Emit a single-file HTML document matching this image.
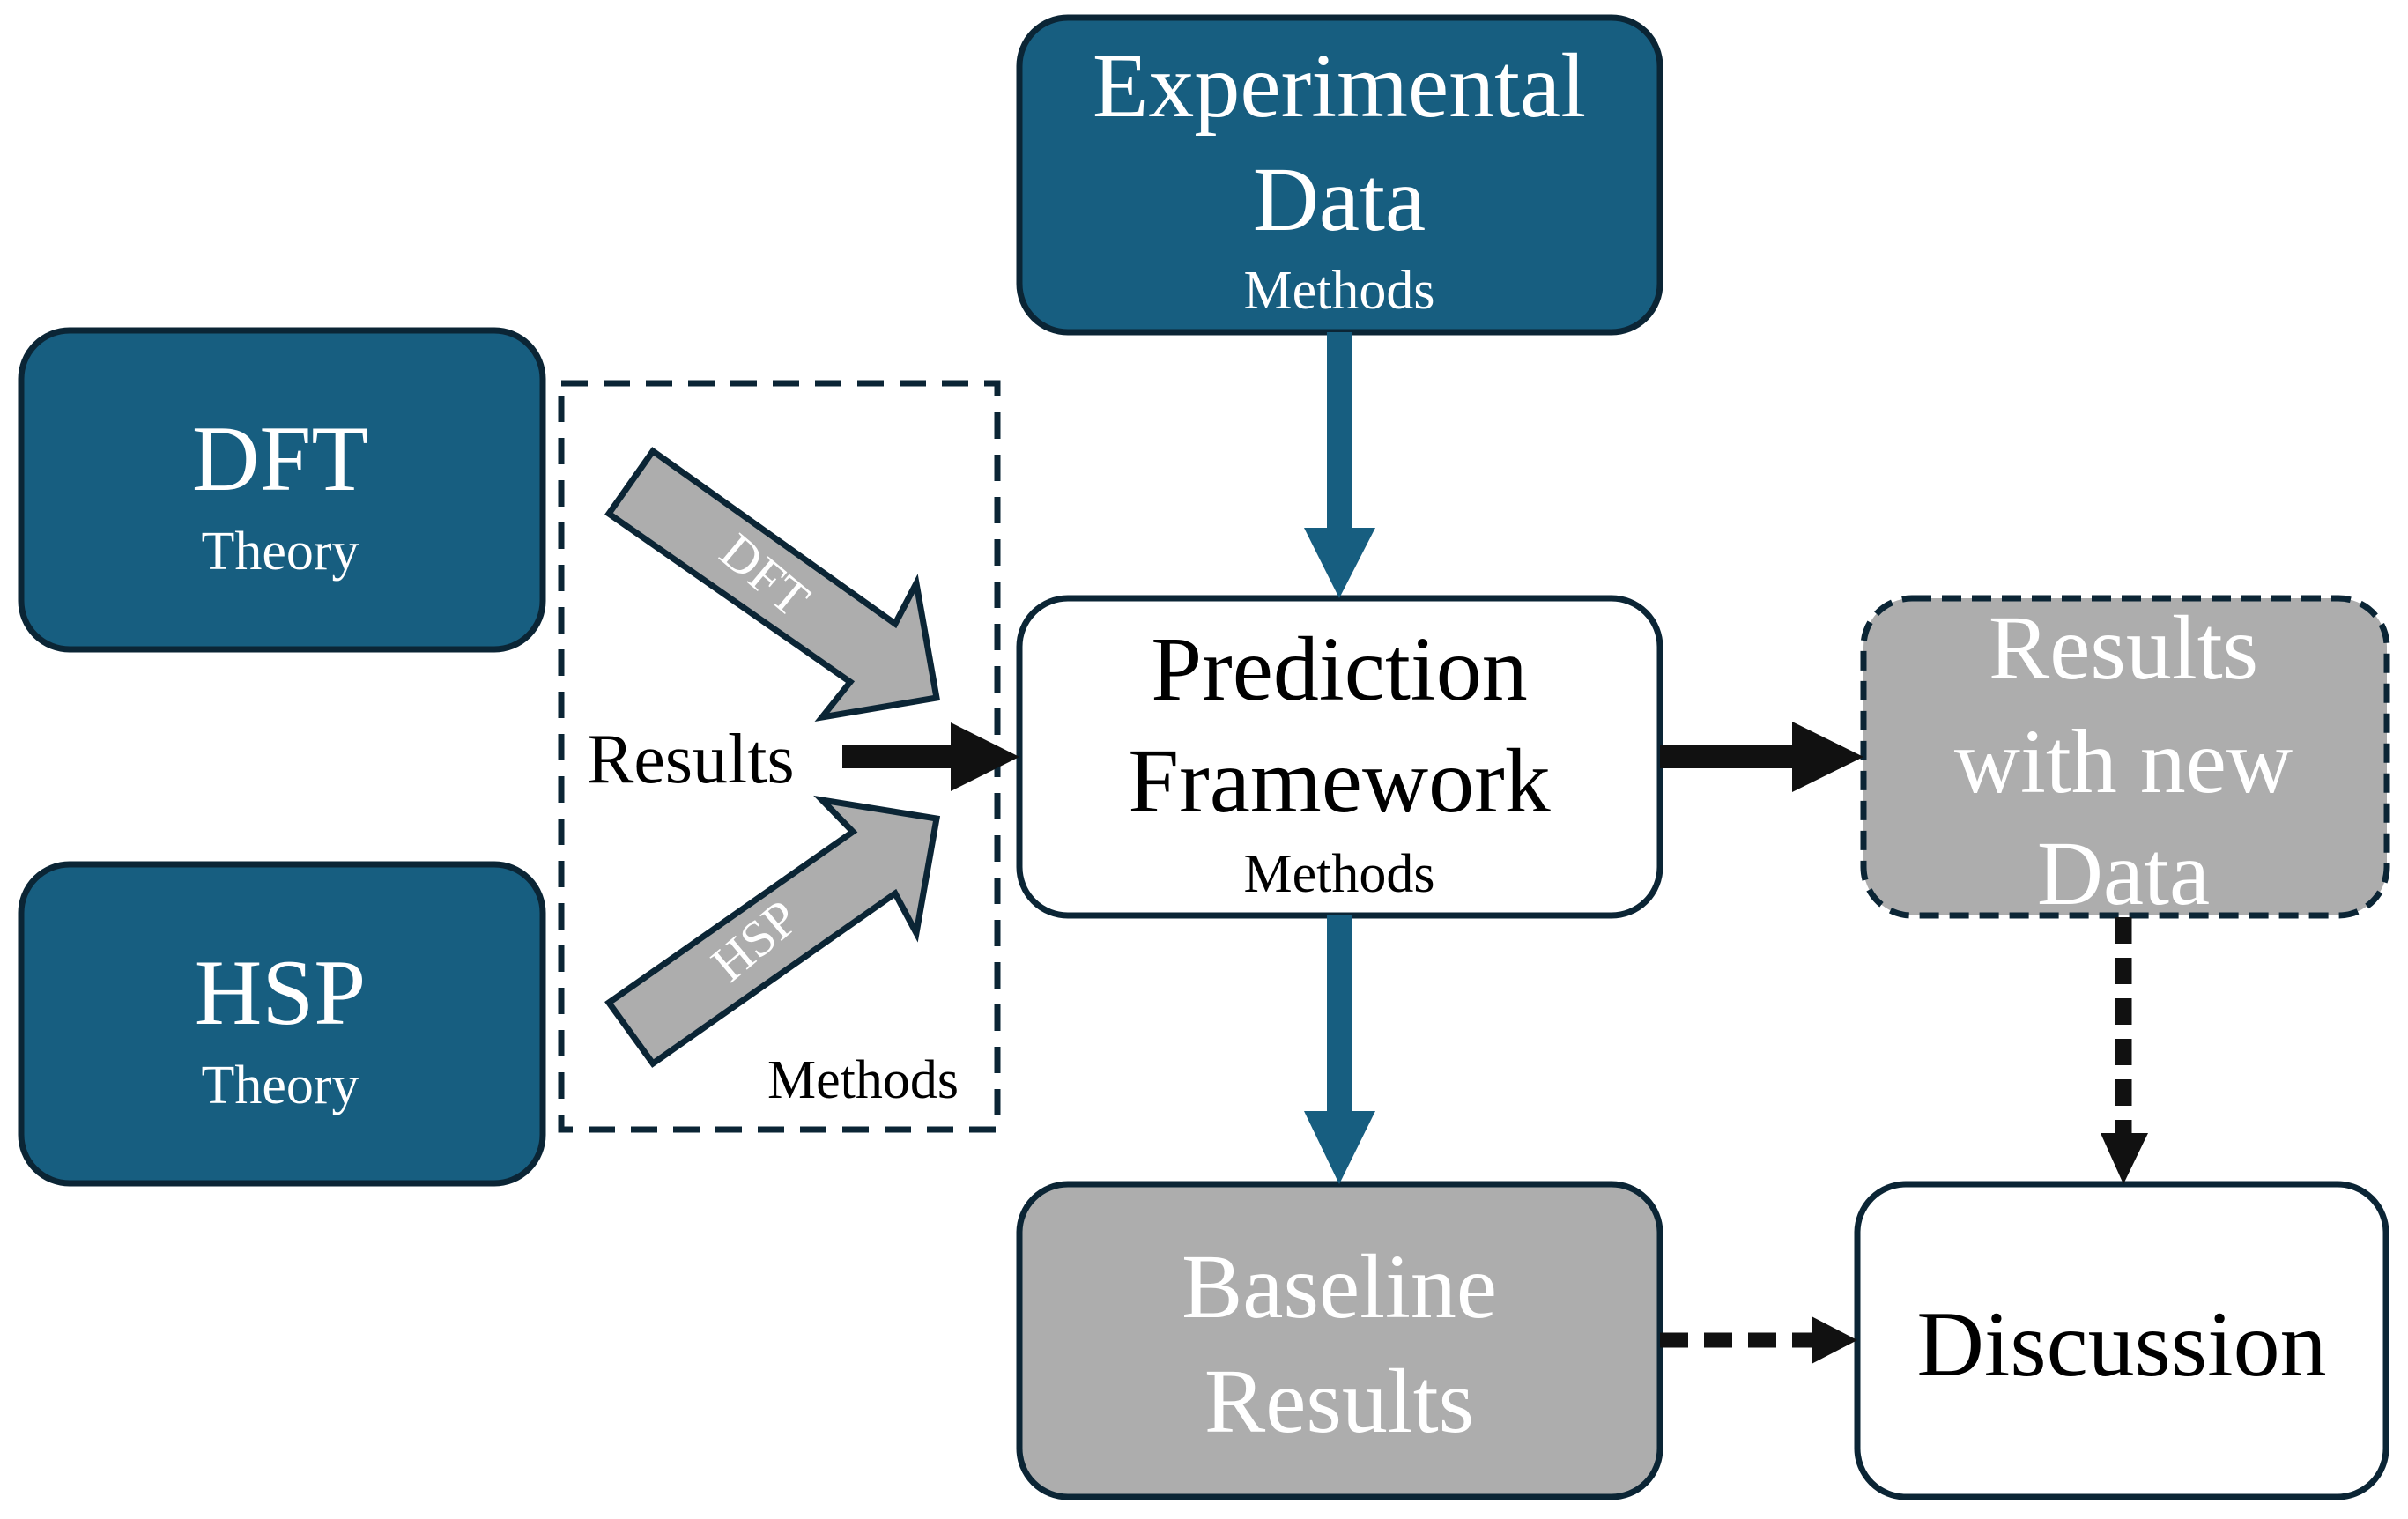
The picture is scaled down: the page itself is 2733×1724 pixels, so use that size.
<!DOCTYPE html>
<html><head><meta charset="utf-8"><style>
html,body{margin:0;padding:0;background:#fff;}
svg{display:block;}
text{font-family:"Liberation Serif",serif;}
</style></head><body>
<svg width="2733" height="1724" viewBox="0 0 2733 1724" xmlns="http://www.w3.org/2000/svg">
<g stroke="#0b2535" stroke-width="7">
<rect x="1157" y="20" width="727" height="357" rx="55" fill="#175e80"/>
<rect x="24" y="375" width="592" height="362" rx="55" fill="#175e80"/>
<rect x="24" y="981" width="592" height="362" rx="55" fill="#175e80"/>
<rect x="1157" y="679" width="727" height="360" rx="55" fill="#fff"/>
<rect x="1157" y="1344" width="727" height="355" rx="55" fill="#adadad"/>
<rect x="2108" y="1344" width="600" height="355" rx="55" fill="#fff"/>
<rect x="2115" y="679" width="594" height="360" rx="55" fill="#adadad" stroke-dasharray="22,12"/>
<rect x="637" y="435" width="495" height="847" fill="none" stroke-width="7" stroke-dasharray="30,18"/>
<polygon points="741,512 691,583 965,774 933,814 1063,792 1040,662 1016,708" fill="#adadad" stroke-width="7"/>
<polygon points="691,1138 741,1207 1016,1014 1040,1059 1063,929 933,908 968,944" fill="#adadad" stroke-width="7"/>
</g>
<rect x="1506" y="377" width="28" height="224" fill="#175e80"/>
<polygon points="1480,599 1561,599 1520,679" fill="#175e80"/>
<rect x="1506" y="1039" width="28" height="224" fill="#175e80"/>
<polygon points="1480,1261 1561,1261 1520,1344" fill="#175e80"/>
<rect x="956" y="846" width="125" height="26" fill="#111"/>
<polygon points="1079,820 1079,898 1157,859" fill="#111"/>
<rect x="1884" y="845" width="152" height="27" fill="#111"/>
<polygon points="2034,819 2034,899 2115,859" fill="#111"/>
<line x1="2410" y1="1041" x2="2410" y2="1288" stroke="#111" stroke-width="19" stroke-dasharray="30,16"/>
<polygon points="2384,1286 2438,1286 2410,1344" fill="#111"/>
<line x1="1884" y1="1521" x2="2058" y2="1521" stroke="#111" stroke-width="17" stroke-dasharray="32,18"/>
<polygon points="2056,1494 2056,1548 2108,1521" fill="#111"/>
<g text-anchor="middle" fill="#fff">
<text x="1520" y="132" font-size="104">Experimental</text>
<text x="1520" y="261" font-size="104">Data</text>
<text x="1520" y="350" font-size="62">Methods</text>
<text x="318" y="556" font-size="106">DFT</text>
<text x="318" y="646" font-size="62">Theory</text>
<text x="318" y="1162" font-size="106">HSP</text>
<text x="318" y="1252" font-size="62">Theory</text>
<text x="2410" y="770" font-size="104">Results</text>
<text x="2410" y="899" font-size="104">with new</text>
<text x="2410" y="1026" font-size="104">Data</text>
<text x="1520" y="1495" font-size="104">Baseline</text>
<text x="1520" y="1625" font-size="104">Results</text>
<text x="868" y="672" font-size="58" transform="rotate(40 868 653)">DFT</text>
<text x="857" y="1087" font-size="58" transform="rotate(-40 857 1068)">HSP</text>
</g>
<g text-anchor="middle" fill="#000">
<text x="1520" y="794" font-size="104">Prediction</text>
<text x="1520" y="921" font-size="104">Framework</text>
<text x="1520" y="1012" font-size="62">Methods</text>
<text x="2408" y="1561" font-size="106">Discussion</text>
</g>
<text x="666" y="888" font-size="80" fill="#000">Results</text>
<text x="1088" y="1246" font-size="62" fill="#000" text-anchor="end">Methods</text>
</svg>
</body></html>
